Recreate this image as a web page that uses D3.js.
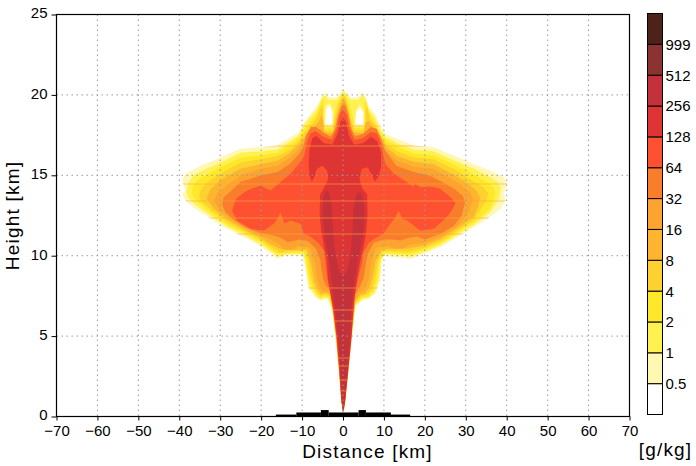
<!DOCTYPE html>
<head>
<meta charset="utf-8">
<script src="https://d3js.org/d3.v7.min.js"></script>
<style>
  body { margin: 0; background: #fff; }
  text { font-family: "Liberation Sans", Arial, sans-serif; fill: #000; }
  .tick text { font-size: 15px; }
</style>
</head>
<body>
<div id="my_dataviz"></div>
<script>

// contour levels [g/kg] and the fill of the band above each level
var levels = [0.5, 1, 2, 4, 8, 16, 32, 64, 128, 256, 512, 999];
var levelColors = ["#fff7b2", "#fff250", "#ffe82a", "#fdd12f", "#fdb52f", "#fca330",
                   "#fa7d2c", "#fe5131", "#de3434", "#c5313a", "#8c3232", "#4c2219"];

var xTicks = [-70, -60, -50, -40, -30, -20, -10, 0, 10, 20, 30, 40, 50, 60, 70];
var yTicks = [0, 5, 10, 15, 20, 25];

// model levels that show as thin light seams across the plume [km]
var seamHeights = [18.1, 16.85, 14.47, 13.43, 12.4, 11.4, 8.04, 6.63, 5.97, 3.69, 3.17, 2.3, 1.6];

// contour outlines, [distance km, height km]
var ring05 = [[-0.1,0.27],[-0.46,1.0],[-1.05,2.86],[-1.86,4.93],[-2.66,6.59],[-3.9,7.3],[-5.5,7.2],[-6.7,7.4],[-8.5,8.0],[-9.0,8.9],[-9.6,9.7],[-10.0,10.0],[-14.1,10.0],[-16.1,9.8],[-16.9,10.0],[-19.8,10.53],[-22.6,10.95],[-25.9,11.36],[-29.1,11.77],[-31.6,12.19],[-36.5,13.0],[-38.5,13.44],[-39.3,13.85],[-38.5,14.06],[-39.3,14.68],[-38.5,15.1],[-34.8,15.6],[-29.9,16.1],[-25.1,16.65],[-20.2,16.75],[-16.1,16.85],[-12.85,17.37],[-10.8,17.68],[-9.2,18.4],[-8.0,18.8],[-6.3,19.3],[-5.1,19.96],[-4.3,20.17],[-3.5,19.86],[-1.45,19.86],[-0.2,20.27],[0,20.4],[0.4,20.27],[1.8,19.86],[3.8,19.86],[4.7,20.17],[5.5,19.96],[6.3,19.3],[7.9,18.8],[9.1,18.1],[10.4,17.58],[13.2,17.27],[17.3,16.85],[22.2,16.75],[27.0,16.23],[31.9,15.7],[36.8,15.2],[39.3,14.88],[40.1,14.47],[39.3,13.85],[39.7,13.43],[38.4,12.9],[35.2,12.29],[31.9,11.77],[27.9,11.15],[23.8,10.53],[19.7,10.1],[16.5,9.8],[9.9,10.0],[9.5,9.7],[9.1,8.46],[7.9,7.63],[6.3,7.3],[4.7,7.21],[3.0,6.8],[2.2,4.93],[1.4,2.86],[0.6,1.0],[0.2,0.27]];
var holes05 = [[[-4.3,18.2],[-2.7,18.2],[-2.6,18.9],[-3.2,19.3],[-4.1,19.1]],
               [[3.0,18.2],[4.9,18.2],[4.9,18.9],[4.1,19.15],[3.3,18.9]]];

var ring1 = [[-0.08,0.32],[-0.44,1.0],[-1.0,2.86],[-1.8,4.93],[-2.6,6.6],[-3.4,7.3],[-4.2,7.38],[-5.5,7.28],[-6.6,7.5],[-8.3,8.1],[-8.8,8.9],[-9.3,9.7],[-9.8,10.1],[-13.5,10.1],[-16.0,9.95],[-17.0,10.15],[-20,10.7],[-24,11.27],[-28,11.75],[-32,12.42],[-36,13.15],[-37.8,13.6],[-38.3,14.0],[-37.8,14.5],[-36.5,15.0],[-35,15.2],[-30,15.8],[-25,16.4],[-20,16.5],[-16,16.6],[-13,17.1],[-10.8,17.5],[-9.3,18.2],[-8.0,18.6],[-6.4,19.1],[-5.2,19.8],[-4.4,20.0],[-3.6,19.7],[-1.5,19.7],[-0.3,20.1],[0.1,20.25],[0.5,20.1],[1.9,19.7],[3.8,19.7],[4.7,20.0],[5.4,19.8],[6.2,19.1],[7.8,18.6],[9.0,17.9],[10.4,17.4],[13.2,17.0],[17.3,16.6],[22,16.5],[27,15.95],[31.9,15.4],[35.5,14.95],[37.8,14.6],[38.6,14.2],[38.2,13.6],[36,12.7],[32,11.92],[28,11.3],[24,10.68],[20,10.25],[16.5,9.95],[10.2,10.1],[9.3,9.7],[8.8,8.5],[7.7,7.7],[6.2,7.38],[4.7,7.3],[3.0,6.9],[2.15,4.93],[1.35,2.86],[0.58,1.0],[0.18,0.32]];
var holes1 = [[[-4.5,18.05],[-2.5,18.05],[-2.4,19.0],[-3.2,19.5],[-4.3,19.3]],
              [[2.8,18.05],[5.1,18.05],[5.1,19.0],[4.1,19.4],[3.1,19.0]]];

var ring2 = [[-0.07,0.35],[-0.43,1.0],[-0.98,2.86],[-1.75,4.93],[-2.55,6.6],[-3.4,7.4],[-4.3,7.5],[-5.5,7.38],[-6.4,7.6],[-7.9,8.2],[-8.5,8.9],[-9.0,9.7],[-9.6,10.2],[-13.2,10.2],[-15.8,10.1],[-17.2,10.3],[-20,10.85],[-24,11.4],[-28,11.9],[-32,12.6],[-35.5,13.35],[-37.0,13.8],[-36.6,14.4],[-35,14.8],[-30,15.5],[-25,16.1],[-20,16.25],[-16,16.4],[-13,16.9],[-10.8,17.3],[-9.4,17.9],[-8.0,18.3],[-6.5,18.8],[-5.4,19.5],[-4.8,19.75],[-4.7,19.3],[-4.8,18.5],[-4.5,17.95],[-2.6,17.95],[-2.2,18.6],[-1.6,19.4],[-0.4,19.95],[0.2,20.1],[0.7,19.9],[1.7,19.3],[2.5,18.5],[2.8,17.95],[5.2,17.95],[5.3,18.6],[5.2,19.3],[5.4,19.7],[5.9,19.4],[6.5,18.8],[7.8,18.3],[9.0,17.7],[10.4,17.2],[13.2,16.8],[17.3,16.35],[22,16.25],[27,15.7],[31.5,15.1],[35,14.6],[37,14.2],[37.2,13.75],[36,12.95],[32,12.08],[28,11.42],[24,10.8],[20,10.38],[16.4,10.1],[10.0,10.2],[9.0,9.7],[8.3,8.5],[7.4,7.8],[6.0,7.45],[4.7,7.4],[3.0,7.0],[2.1,4.93],[1.3,2.86],[0.56,1.0],[0.16,0.35]];

var ring4 = [[-0.06,0.38],[-0.42,1.0],[-0.96,2.86],[-1.7,4.93],[-2.5,6.6],[-3.3,7.5],[-4.4,7.6],[-5.4,7.5],[-6.2,7.7],[-7.5,8.3],[-8.0,8.9],[-8.5,9.7],[-9.2,10.3],[-12.8,10.3],[-15.5,10.2],[-17.4,10.5],[-20,10.97],[-24,11.52],[-28,12.05],[-32,12.8],[-34.5,13.35],[-35.2,13.7],[-34.6,14.2],[-33,14.6],[-30,15.1],[-25,15.8],[-20,16.0],[-16,16.2],[-13,16.6],[-10.8,17.1],[-9.5,17.6],[-8.2,18.0],[-6.8,18.4],[-5.7,19.0],[-5.0,19.4],[-4.9,19.0],[-5.0,18.2],[-4.6,17.8],[-2.4,17.8],[-1.9,18.6],[-1.1,19.4],[-0.3,19.85],[0.3,19.95],[0.9,19.6],[1.6,18.9],[2.3,18.1],[2.8,17.8],[5.3,17.8],[5.6,18.5],[5.5,19.1],[5.9,19.2],[6.7,18.5],[8.0,18.0],[9.2,17.5],[10.4,17.0],[13.2,16.5],[17.3,16.1],[22,16.0],[27,15.4],[31,14.75],[34,14.3],[35.5,13.9],[35,13.4],[32,12.25],[28,11.55],[24,10.92],[20,10.5],[16.3,10.25],[9.8,10.3],[8.6,9.7],[7.8,8.5],[7.0,7.9],[5.8,7.55],[4.6,7.5],[3.0,7.1],[2.05,4.93],[1.25,2.86],[0.54,1.0],[0.15,0.38]];

var ring8 = [[-0.05,0.4],[-0.41,1.0],[-0.94,2.86],[-1.66,4.93],[-2.45,6.6],[-3.2,7.6],[-4.4,7.7],[-5.3,7.6],[-6.0,7.85],[-7.0,8.4],[-7.4,9.0],[-8.0,9.7],[-8.8,10.4],[-12.6,10.35],[-15.2,10.4],[-17.6,10.7],[-20,11.1],[-24,11.62],[-28,12.2],[-31.5,12.9],[-33.3,13.55],[-32.5,14.1],[-30,14.7],[-25,15.4],[-20,15.7],[-16,15.9],[-13,16.4],[-10.8,16.9],[-9.6,17.3],[-8.4,17.7],[-7.0,18.0],[-5.8,18.4],[-5.2,18.8],[-4.8,18.3],[-4.6,17.7],[-2.4,17.6],[-1.7,18.5],[-0.9,19.2],[-0.2,19.7],[0.4,19.75],[1.0,19.3],[1.7,18.5],[2.4,17.7],[5.0,17.6],[5.5,18.3],[6.3,18.4],[7.6,17.9],[8.8,17.5],[9.8,17.1],[10.4,16.8],[13.2,16.2],[17.3,15.85],[22,15.7],[27,15.05],[30.5,14.5],[32.8,14.0],[33.5,13.6],[33,13.05],[32,12.45],[28,11.7],[24,11.05],[20,10.65],[16.2,10.45],[9.6,10.4],[8.0,9.7],[7.1,8.5],[6.4,8.0],[5.4,7.65],[4.4,7.6],[3.0,7.2],[2.0,4.93],[1.22,2.86],[0.52,1.0],[0.14,0.4]];

var ring16 = [[-0.04,0.42],[-0.4,1.0],[-0.92,2.86],[-1.62,4.93],[-2.4,6.6],[-3.1,7.7],[-4.3,7.8],[-5.0,7.8],[-5.6,8.0],[-6.2,8.5],[-6.6,9.1],[-7.0,9.7],[-8.0,10.5],[-11.0,10.6],[-12.5,10.4],[-14.5,10.4],[-15.5,10.7],[-17.8,11.0],[-20,11.25],[-24,11.74],[-28,12.38],[-30.5,12.95],[-31.5,13.45],[-30.5,13.95],[-28,14.45],[-25,15.0],[-20,15.4],[-16,15.6],[-13,16.1],[-10.8,16.6],[-9.6,17.0],[-8.5,17.4],[-7.0,17.7],[-5.5,17.9],[-4.3,17.5],[-2.5,17.4],[-1.6,18.2],[-0.8,19.0],[-0.1,19.55],[0.5,19.55],[1.1,19.0],[1.8,18.1],[2.6,17.5],[4.8,17.5],[6.3,17.9],[7.6,17.6],[8.8,17.2],[10.4,16.5],[13.2,15.9],[17.3,15.55],[22,15.4],[26,14.85],[29,14.4],[31,13.95],[31.8,13.5],[30.5,12.6],[28,11.85],[24,11.2],[20,10.8],[16.5,10.7],[14.5,10.45],[12.5,10.45],[11,10.6],[8.0,10.5],[7.0,9.7],[6.3,8.5],[5.6,8.05],[4.8,7.8],[4.0,7.75],[3.0,7.3],[1.95,4.93],[1.2,2.86],[0.5,1.0],[0.13,0.42]];

var ring32 = [[-0.03,0.45],[-0.39,1.0],[-0.9,2.86],[-1.58,4.93],[-2.38,6.6],[-3.0,7.8],[-4.0,8.1],[-4.8,8.5],[-5.3,9.2],[-5.5,9.7],[-6.5,10.4],[-8.5,10.9],[-10.5,11.0],[-12.5,10.9],[-13.5,10.85],[-14.5,11.0],[-16,11.2],[-18,11.3],[-20,11.4],[-24,11.78],[-27,12.3],[-28.8,12.75],[-29.5,13.2],[-29.2,13.6],[-27.5,14.0],[-25,14.6],[-20,15.0],[-16,15.2],[-13,15.7],[-10.8,16.3],[-9.8,16.7],[-9.0,17.5],[-7.8,18.0],[-6.5,18.0],[-5.0,17.7],[-3.0,17.4],[-1.9,17.9],[-1.2,18.7],[-0.4,19.3],[0.5,19.35],[1.3,18.8],[2.0,17.9],[3.0,17.4],[5.0,17.6],[6.8,18.0],[8.2,17.9],[9.3,17.3],[10.2,16.6],[13.0,15.6],[17.3,15.2],[21,15.0],[24.5,14.55],[27.5,14.1],[29.3,13.7],[29.8,13.3],[29,12.5],[27,11.85],[24,11.38],[20,11.0],[18,11.2],[16,11.1],[14.0,10.95],[12.0,11.0],[10.0,11.0],[7.5,10.8],[6.0,10.1],[5.5,9.4],[5.0,8.6],[4.2,8.1],[3.0,7.6],[1.9,4.93],[1.18,2.86],[0.48,1.0],[0.12,0.45]];

var ring64 = [[-0.02,0.48],[-0.38,1.0],[-0.88,2.86],[-1.55,4.93],[-2.35,6.6],[-3.0,7.6],[-3.8,8.5],[-4.3,9.5],[-4.6,10.3],[-6.0,10.8],[-8.0,11.2],[-9.6,11.36],[-10.4,11.98],[-12.85,12.19],[-14.3,12.0],[-15.3,12.7],[-16.0,12.3],[-16.9,11.98],[-19.4,11.55],[-22.6,11.67],[-25.9,12.19],[-27.1,12.8],[-26.5,13.3],[-25.9,13.6],[-23.4,14.05],[-20.2,14.37],[-17.7,14.05],[-15.3,14.57],[-12.85,15.1],[-10.8,15.7],[-9.5,16.2],[-8.8,17.1],[-8.0,17.6],[-6.8,17.75],[-4.8,17.4],[-2.7,17.2],[-1.5,17.9],[-0.8,18.8],[0,19.1],[0.8,18.8],[1.6,17.9],[2.8,17.2],[4.8,17.3],[6.8,17.7],[8.3,17.6],[9.3,17.0],[9.9,16.2],[10.4,15.7],[12.4,15.1],[15.5,14.6],[17.0,14.3],[17.7,14.47],[18.9,14.26],[21.5,14.3],[23.8,14.16],[26.0,13.7],[27.5,13.3],[26.8,12.9],[25.4,12.4],[22.2,11.67],[18.9,11.55],[15.7,12.19],[14.5,12.3],[13.6,12.8],[12.6,12.3],[11.6,12.0],[9.9,11.36],[8.0,11.1],[6.3,10.8],[5.0,10.2],[4.6,9.5],[3.6,8.5],[2.8,7.4],[2.2,5.8],[1.75,4.93],[1.1,2.86],[0.47,1.0],[0.1,0.48]];

var ring128 = [[-0.05,0.3],[-0.38,1.0],[-0.85,2.86],[-1.5,4.93],[-2.3,6.6],[-3.05,7.6],[-3.7,8.6],[-3.9,9.7],[-4.6,10.5],[-5.3,11.5],[-5.7,12.5],[-5.6,13.8],[-4.5,14.3],[-3.6,14.8],[-3.9,15.3],[-5.0,15.6],[-6.4,15.4],[-7.0,14.9],[-7.6,14.6],[-8.2,15.0],[-8.4,15.8],[-8.2,16.6],[-7.5,17.3],[-6.5,17.45],[-4.6,17.0],[-2.6,16.9],[-1.3,17.6],[-0.5,18.4],[0.1,18.6],[0.7,18.3],[1.4,17.5],[2.7,16.9],[4.8,17.0],[6.9,17.4],[8.4,17.1],[9.3,16.4],[9.3,15.5],[8.6,14.9],[7.8,14.6],[7.1,15.0],[6.0,15.5],[4.6,15.4],[4.0,14.8],[4.7,14.2],[5.9,13.8],[6.0,12.5],[5.6,11.3],[4.9,10.4],[4.25,9.7],[3.4,8.5],[2.6,7.0],[2.1,4.93],[1.3,2.86],[0.55,1.0],[0.15,0.3]];

var ring256 = [[0,0.4],[-0.3,1.0],[-0.7,2.86],[-1.2,4.93],[-1.85,6.6],[-2.4,7.6],[-2.9,8.6],[-3.4,9.8],[-4.4,11.0],[-5.0,12.5],[-4.8,13.6],[-4.1,14.1],[-3.3,13.9],[-2.7,13.0],[-2.4,11.5],[-1.8,10.0],[-0.8,9.0],[0,8.8],[0.9,9.0],[1.8,10.0],[2.3,11.5],[2.6,13.0],[3.2,13.8],[4.2,14.0],[5.1,13.4],[5.3,12.2],[4.8,11.0],[3.7,9.8],[2.9,8.5],[2.2,7.2],[1.75,4.93],[1.1,2.86],[0.45,1.0]];

// terrain steps under the plume: [from km, to km, height km]
var terrain = [[-16.4,-11.4,0.12],[-11.4,-5.4,0.25],[-5.4,-3.5,0.4],[-3.5,3.8,0.25],
               [3.8,5.6,0.4],[5.6,11.7,0.25],[11.7,16.4,0.12]];

var contourRings = [
  [ring05].concat(holes05), [ring1].concat(holes1), [ring2], [ring4], [ring8],
  [ring16], [ring32], [ring64], [ring128], [ring256]
];

// set the dimensions and margins of the graph
var margin = {top: 14.5, right: 66.5, bottom: 49.5, left: 56.5},
    width = 573,
    height = 402;

var svg = d3.select("#my_dataviz")
  .append("svg")
    .attr("width", 696)
    .attr("height", 466)
  .append("g")
    .attr("transform", "translate(" + margin.left + "," + margin.top + ")");

var x = d3.scaleLinear().domain([-70, 70]).range([0, width]);
var y = d3.scaleLinear().domain([0, 25]).range([height, 0]);

var line = d3.line()
  .x(function(d) { return x(d[0]); })
  .y(function(d) { return y(d[1]); });

svg.append("clipPath").attr("id", "plotClip")
  .append("rect").attr("width", width).attr("height", height);
svg.append("clipPath").attr("id", "plumeClip")
  .append("path").attr("d", line(ring05) + "Z");

// filled contours, lowest level first
svg.append("g")
  .attr("clip-path", "url(#plotClip)")
  .selectAll("path")
  .data(contourRings)
  .enter()
  .append("path")
    .attr("fill", function(d, i) { return levelColors[i]; })
    .attr("fill-rule", "evenodd")
    .attr("d", function(d) { return d.map(function(r) { return line(r) + "Z"; }).join(""); });

// light seams between model levels
svg.append("g")
  .attr("clip-path", "url(#plumeClip)")
  .selectAll("line")
  .data(seamHeights)
  .enter().append("line")
    .attr("x1", 0).attr("x2", width)
    .attr("y1", function(d) { return Math.round(y(d)) + 0.5; })
    .attr("y2", function(d) { return Math.round(y(d)) + 0.5; })
    .attr("stroke", "#ffab3a")
    .attr("stroke-opacity", 0.6)
    .attr("stroke-width", 1);

// dotted grid
var grid = svg.append("g").attr("stroke", "#9a9a9a").attr("stroke-dasharray", "1.5,3.5");
grid.selectAll("line.vx")
  .data(xTicks.slice(1, -1))
  .enter().append("line")
    .attr("x1", function(d) { return x(d); }).attr("x2", function(d) { return x(d); })
    .attr("y1", 0).attr("y2", height);
grid.selectAll("line.hy")
  .data(yTicks.slice(1, -1))
  .enter().append("line")
    .attr("x1", 0).attr("x2", width)
    .attr("y1", function(d) { return y(d); }).attr("y2", function(d) { return y(d); });

// terrain
svg.append("g")
  .selectAll("rect")
  .data(terrain)
  .enter().append("rect")
    .attr("x", function(d) { return x(d[0]); })
    .attr("width", function(d) { return x(d[1]) - x(d[0]); })
    .attr("y", function(d) { return y(d[2]); })
    .attr("height", function(d) { return y(0) - y(d[2]); })
    .attr("fill", "#000");

// axes
var xAxis = svg.append("g")
  .attr("transform", "translate(0," + height + ")")
  .call(d3.axisBottom(x).tickValues(xTicks).tickSize(4).tickPadding(4.5));
xAxis.select(".domain").remove();

var yAxis = svg.append("g")
  .call(d3.axisLeft(y).tickValues(yTicks).tickSize(5).tickPadding(4));
yAxis.select(".domain").remove();
yAxis.selectAll(".tick text").attr("dy", "0.22em");

svg.append("rect")
  .attr("width", width).attr("height", height)
  .attr("fill", "none").attr("stroke", "#000").attr("stroke-width", 1.2);

svg.append("text")
  .attr("text-anchor", "middle")
  .attr("x", 311)
  .attr("y", height + 41)
  .style("font-size", "19px")
  .style("letter-spacing", "1.2px")
  .text("Distance [km]");

svg.append("text")
  .attr("text-anchor", "middle")
  .attr("transform", "translate(-38," + (height / 2) + ") rotate(-90)")
  .style("font-size", "19px")
  .style("letter-spacing", "1.2px")
  .text("Height [km]");

// colour bar
var barColors = ["#ffffff"].concat(levelColors);
var cb = d3.select("svg").append("g").attr("transform", "translate(647.5,13.5)");
var cbY = d3.scaleLinear().domain([0, barColors.length]).range([401, 0]);

cb.selectAll("rect")
  .data(barColors)
  .enter().append("rect")
    .attr("x", 0)
    .attr("width", 15)
    .attr("y", function(d, i) { return cbY(i + 1); })
    .attr("height", function(d, i) { return cbY(i) - cbY(i + 1); })
    .attr("fill", function(d) { return d; })
    .attr("stroke", "#000")
    .attr("stroke-width", 1);

cb.selectAll("text")
  .data(levels)
  .enter().append("text")
    .attr("x", 18)
    .attr("y", function(d, i) { return cbY(i + 1); })
    .attr("dy", "0.36em")
    .style("font-size", "15px")
    .text(function(d) { return d; });

cb.append("text")
  .attr("x", 18)
  .attr("y", 442)
  .attr("text-anchor", "middle")
  .style("font-size", "19px")
  .style("letter-spacing", "1.2px")
  .text("[g/kg]");

</script>
</body>
